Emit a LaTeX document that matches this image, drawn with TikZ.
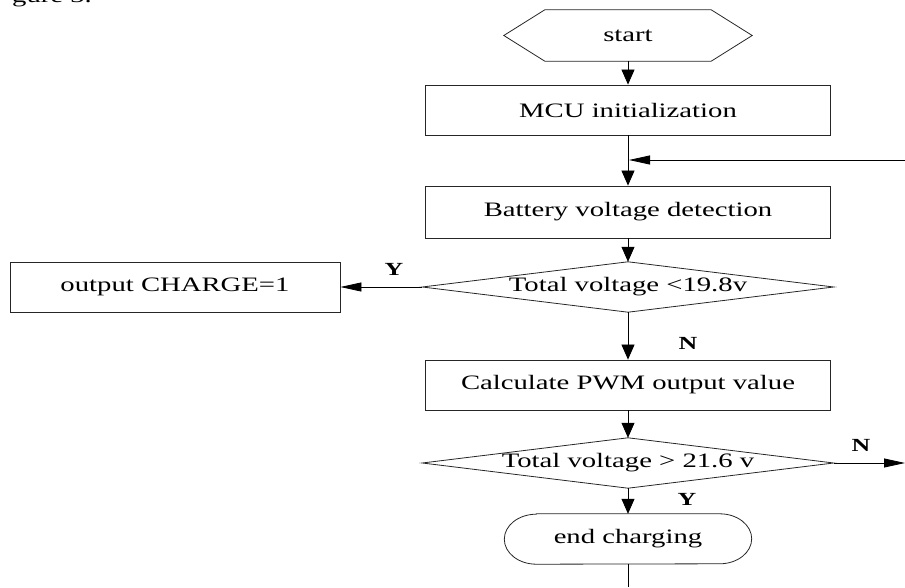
\documentclass[tikz,border=0pt]{standalone}
\usepackage{graphicx}
\usepackage{fontspec}
\setmainfont{Liberation Serif}
\usetikzlibrary{arrows.meta,calc}
\newcommand{\sx}[1]{\scalebox{1.4}[1]{#1}}
\begin{document}
\begin{tikzpicture}[x=1pt,y=1pt,
  box/.style={draw=black!85, line width=0.8pt, inner sep=0pt, font=\fontsize{20.5}{24}\selectfont},
  txt/.style={inner sep=0pt, font=\fontsize{20.5}{24}\selectfont},
  lab/.style={inner sep=0pt, font=\fontsize{18.5}{22}\selectfont\bfseries},
  outline/.style={draw=black!85, line width=0.8pt},
  vArr/.style={line width=0.8pt, -{Triangle[length=15pt,width=13pt]}},
  hArr/.style={line width=0.8pt, -{Triangle[length=21pt,width=9pt]}},
  conn/.style={line width=0.8pt}]
\useasboundingbox (0,0) rectangle (905,587);
\clip (0,0) rectangle (905,587);
% caption fragment
\node[txt, anchor=base west] (cap) at (12,584.5) {\sx{gure 3.}};
% start
\node[txt, minimum width=248, minimum height=51] (start) at (628,551.5) {\sx{start}};
\draw[outline] (start.west) -- ($(start.north west)+(41,0)$) -- ($(start.north east)+(-41,0)$) -- (start.east) -- ($(start.south east)+(-41,0)$) -- ($(start.south west)+(41,0)$) -- cycle;
% boxes
\node[box, minimum width=405, minimum height=50] (mcu) at (628,477) {\sx{MCU initialization}};
\node[box, minimum width=405, minimum height=52] (bat) at (628,375) {\sx{Battery voltage detection}};
\node[txt, minimum width=411, minimum height=50] (d1) at (628,300) {\sx{Total voltage <19.8v}};
\draw[outline] (d1.west) -- (d1.north) -- (d1.east) -- (d1.south) -- cycle;
\node[box, minimum width=330, minimum height=50] (out) at (175,300) {\sx{output CHARGE=1}};
\node[box, minimum width=405, minimum height=50] (pwm) at (628,202) {\sx{Calculate PWM output value}};
\node[txt, minimum width=411, minimum height=50] (d2) at (628,124) {\sx{Total voltage > 21.6 v}};
\draw[outline] (d2.west) -- (d2.north) -- (d2.east) -- (d2.south) -- cycle;
\node[txt, minimum width=247, minimum height=50] (end) at (628,48) {\sx{end charging}};
\draw[outline] ($(end.north west)+(32,0)$) -- ($(end.north east)+(-32,0)$) arc[start angle=90,end angle=-90,x radius=32,y radius=25] -- ($(end.south west)+(32,0)$) arc[start angle=270,end angle=90,x radius=32,y radius=25] -- cycle;
% connectors
\coordinate (fbR) at (905,427);
\coordinate (fbJ) at (629,427);
\coordinate (nR) at (905,124);
\coordinate (bot) at (628,0);
\draw[vArr] (start) -- (mcu);
\draw[vArr] (mcu) -- (bat);
\draw[hArr] (fbR) -- (fbJ);
\draw[vArr] (bat) -- (d1);
\draw[hArr] (d1.west) -- (out.east);
\draw[vArr] (d1.south) -- (pwm.north);
\draw[vArr] (pwm) -- (d2);
\draw[hArr] (d2.east) -- (nR);
\draw[vArr] (d2) -- (end);
\draw[conn] (end) -- (bot);
% labels
\node[lab] (y1) at (394,318) {\sx{Y}};
\node[lab] (n1) at (688,244) {\sx{N}};
\node[lab] (n2) at (861,142) {\sx{N}};
\node[lab] (y2) at (687,88) {\sx{Y}};
\end{tikzpicture}
\end{document}
